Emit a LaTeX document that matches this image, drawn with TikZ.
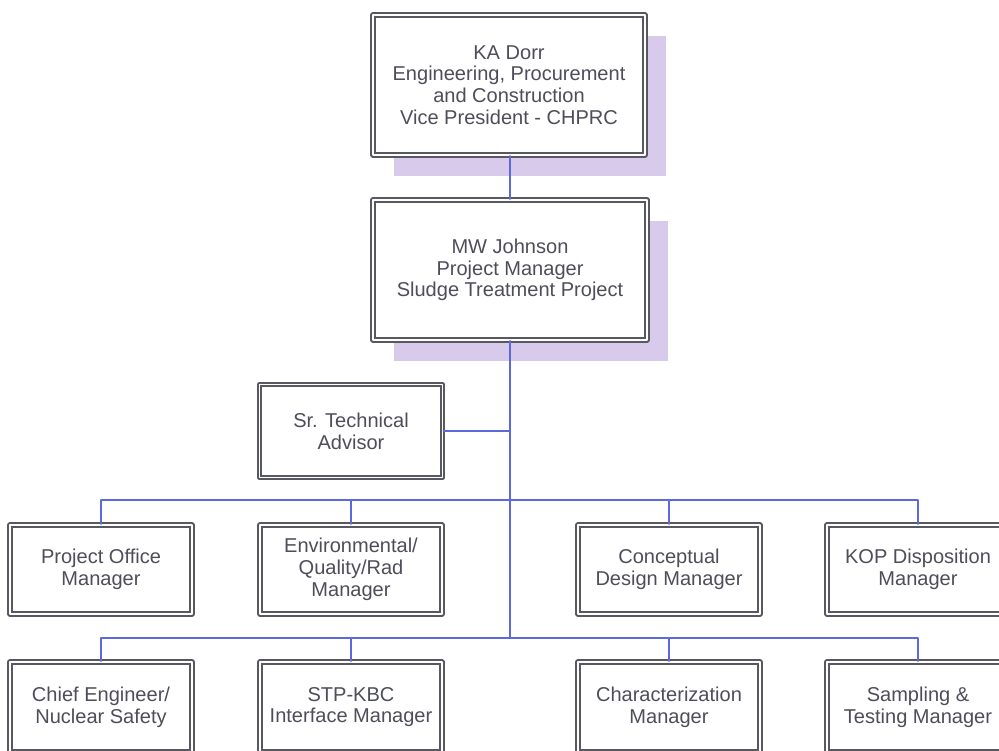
\documentclass[tikz,border=0pt]{standalone}
\usepackage{fontspec}
\setmainfont{Liberation Sans}
\usetikzlibrary{positioning,shadows}
\definecolor{boxgray}{RGB}{88,88,96}
\definecolor{txtgray}{RGB}{78,78,90}
\definecolor{linkblue}{RGB}{92,104,222}
\definecolor{shadowlav}{RGB}{216,202,234}
\begin{document}
\begin{tikzpicture}[line cap=round, line join=round,
  orgbox/.style={draw=boxgray, line width=1.1pt, double=white, double distance=0.9pt,
    fill=white, text=txtgray, align=center, inner sep=0pt,
    font=\fontsize{11.4}{12.4}\selectfont},
  shadowed/.style={drop shadow={shadow xshift=0.42cm, shadow yshift=-0.42cm, fill=shadowlav, opacity=1}},
  link/.style={draw=linkblue, line width=1pt}]

\useasboundingbox[fill=white] (0,0) rectangle (19.98,15);

\node[orgbox, shadowed, minimum width=5.44cm, minimum height=2.8cm] (kadorr) at (10.18,13.3)
  {KA Dorr\\Engineering, Procurement\\and Construction\\Vice President - CHPRC};
\node[orgbox, shadowed, minimum width=5.48cm, minimum height=2.8cm] (johnson) at (10.2,9.6)
  {MW Johnson\\Project Manager\\Sludge Treatment Project};
\node[orgbox, minimum width=3.66cm, minimum height=1.86cm] (advisor) at (7.02,6.38)
  {Sr. Technical\\Advisor};

\node[orgbox, minimum width=3.64cm, minimum height=1.78cm] (officemgr) at (2.02,3.61)
  {Project Office\\Manager};
\node[orgbox, minimum width=3.64cm, minimum height=1.78cm] (envmgr) at (7.02,3.61)
  {Environmental/\\Quality/Rad\\Manager};
\node[orgbox, minimum width=3.64cm, minimum height=1.78cm] (designmgr) at (13.38,3.61)
  {Conceptual\\Design Manager};
\node[orgbox, minimum width=3.64cm, minimum height=1.78cm] (kopmgr) at (18.36,3.61)
  {KOP Disposition\\Manager};

\node[orgbox, minimum width=3.64cm, minimum height=1.8cm] (chiefeng) at (2.02,0.86)
  {Chief Engineer/\\Nuclear Safety};
\node[orgbox, minimum width=3.64cm, minimum height=1.8cm] (kbcmgr) at (7.02,0.86)
  {STP-KBC\\Interface Manager};
\node[orgbox, minimum width=3.64cm, minimum height=1.8cm] (charmgr) at (13.38,0.86)
  {Characterization\\Manager};
\node[orgbox, minimum width=3.64cm, minimum height=1.8cm] (sampmgr) at (18.36,0.86)
  {Sampling \&\\Testing Manager};

\coordinate (busA) at (10.2,5.0);
\coordinate (busB) at (10.2,2.24);

\draw[link] (kadorr.south -| johnson.north) -- (johnson.north);
\draw[link] (johnson.south) -- (busB);
\draw[link] (advisor.east) -- (advisor.east -| busA);
\draw[link] (officemgr.north) |- (busA) -| (kopmgr.north);
\draw[link] (envmgr.north) -- (envmgr.north |- busA);
\draw[link] (designmgr.north) -- (designmgr.north |- busA);
\draw[link] (chiefeng.north) |- (busB) -| (sampmgr.north);
\draw[link] (kbcmgr.north) -- (kbcmgr.north |- busB);
\draw[link] (charmgr.north) -- (charmgr.north |- busB);

\end{tikzpicture}
\end{document}
